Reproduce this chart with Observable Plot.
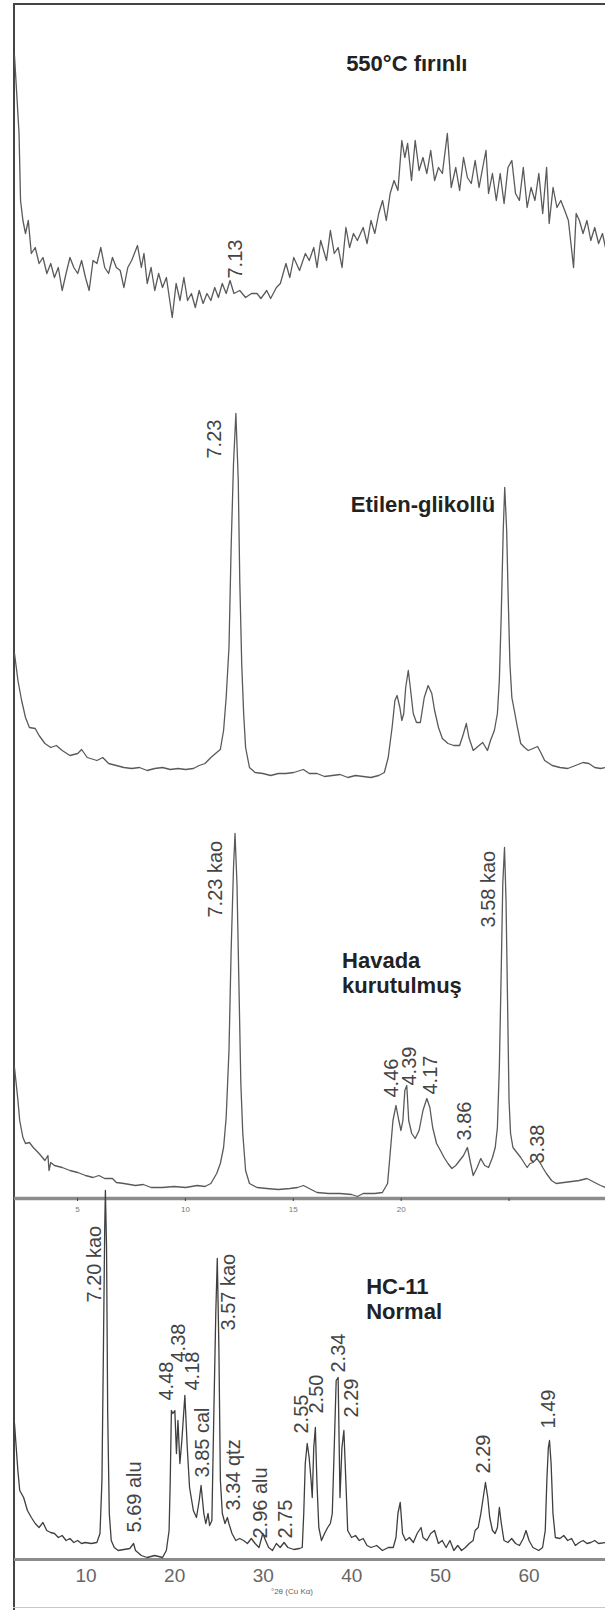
<!DOCTYPE html>
<html><head><meta charset="utf-8">
<script src="https://cdn.jsdelivr.net/npm/d3@7"></script>
<script src="https://cdn.jsdelivr.net/npm/@observablehq/plot@0.6"></script>
<style>
body{margin:0;background:#fff;}
#chart{position:relative;width:605px;height:1610px;overflow:hidden;font-family:"Liberation Sans",Arial,sans-serif;}
#chart svg{position:absolute;left:0;}
.fl{position:absolute;left:13px;top:3px;width:2px;height:1607px;background:#454545;}
.ft{position:absolute;left:13px;top:3px;width:592px;height:2px;background:#454545;}
.fb{position:absolute;left:13px;top:1607px;width:592px;height:1px;background:#c8c8c8;}
</style></head><body><div id="chart"><div class="fl"></div><div class="ft"></div><div class="fb"></div></div>
<script>
// ---- data: [°2θ, intensity] ----
const furnace550 = [[2.08,275],[2.29,197],[2.36,130],[2.47,110],[2.59,97],[2.72,110],[2.86,77],[3.04,83],[3.22,67],[3.40,73],[3.58,57],[3.76,67],[3.93,53],[4.11,63],[4.29,40],[4.47,57],[4.65,73],[4.83,63],[5.01,57],[5.19,70],[5.37,53],[5.54,40],[5.72,70],[5.90,67],[6.08,83],[6.26,63],[6.44,57],[6.62,73],[6.80,63],[6.98,60],[7.15,43],[7.33,63],[7.51,70],[7.78,85],[7.96,63],[8.08,77],[8.23,47],[8.41,63],[8.58,40],[8.76,57],[8.94,43],[9.12,53],[9.39,13],[9.57,47],[9.75,30],[9.93,53],[10.10,30],[10.28,37],[10.46,23],[10.64,40],[10.82,27],[11.00,37],[11.18,30],[11.36,43],[11.53,33],[11.71,47],[11.89,37],[12.07,50],[12.25,37],[12.52,40],[12.79,33],[13.06,37],[13.32,37],[13.50,32],[13.77,40],[13.95,32],[14.22,43],[14.40,47],[14.66,67],[14.84,53],[15.02,73],[15.29,60],[15.56,77],[15.74,70],[15.95,83],[16.10,63],[16.27,90],[16.54,70],[16.72,100],[16.90,77],[17.08,83],[17.26,63],[17.44,103],[17.61,83],[17.79,97],[17.97,90],[18.24,103],[18.42,87],[18.60,110],[18.78,97],[18.96,117],[19.14,130],[19.31,110],[19.49,137],[19.67,150],[19.85,140],[20.03,190],[20.17,173],[20.30,187],[20.48,150],[20.65,190],[20.83,160],[21.01,173],[21.19,157],[21.37,180],[21.55,150],[21.73,163],[21.91,157],[22.14,197],[22.32,143],[22.53,163],[22.71,140],[22.89,173],[23.07,153],[23.25,147],[23.43,170],[23.61,143],[23.78,163],[23.93,180],[24.05,137],[24.23,157],[24.41,130],[24.59,157],[24.77,127],[24.95,163],[25.13,170],[25.30,137],[25.48,130],[25.66,163],[25.84,123],[26.02,143],[26.20,130],[26.38,157],[26.56,117],[26.74,163],[26.86,107],[27.04,143],[27.22,123],[27.40,130],[27.58,120],[27.75,110],[27.99,63],[28.11,117],[28.26,110],[28.43,97],[28.61,110],[28.79,90],[28.97,103],[29.15,87],[29.33,97],[29.47,83]];

const glycol = [[2.08,127],[2.24,100],[2.41,80],[2.59,63],[2.77,53],[3.04,52],[3.22,45],[3.49,37],[3.76,33],[4.02,35],[4.29,30],[4.65,25],[5.01,27],[5.19,31],[5.45,23],[5.90,20],[6.17,23],[6.44,17],[6.80,15],[7.15,13],[7.51,12],[7.87,13],[8.23,10],[8.58,12],[8.94,13],[9.30,11],[9.66,12],[10.01,11],[10.37,12],[10.64,15],[10.91,17],[11.18,23],[11.45,28],[11.62,31],[11.77,50],[11.89,83],[12.02,133],[12.12,233],[12.23,317],[12.34,367],[12.45,300],[12.52,200],[12.61,117],[12.70,67],[12.79,33],[12.97,13],[13.23,8],[13.59,7],[13.95,5],[14.31,7],[14.66,7],[15.02,8],[15.47,11],[15.74,7],[16.10,7],[16.45,4],[16.81,5],[17.17,6],[17.53,3],[17.88,5],[18.24,4],[18.60,3],[18.96,5],[19.22,8],[19.40,23],[19.58,53],[19.71,80],[19.81,85],[19.94,73],[20.03,60],[20.12,67],[20.21,93],[20.33,110],[20.44,90],[20.56,67],[20.71,58],[20.89,58],[21.07,83],[21.25,95],[21.42,87],[21.55,70],[21.73,53],[21.91,42],[22.17,37],[22.44,35],[22.71,35],[22.89,47],[23.02,57],[23.14,43],[23.34,30],[23.61,35],[23.78,38],[24.00,30],[24.14,40],[24.32,50],[24.46,67],[24.55,100],[24.64,167],[24.73,250],[24.80,293],[24.89,250],[24.96,183],[25.04,117],[25.13,83],[25.27,67],[25.39,53],[25.54,37],[25.72,33],[25.89,30],[26.11,32],[26.32,34],[26.47,28],[26.65,20],[27.00,15],[27.36,13],[27.72,12],[28.08,15],[28.43,18],[28.70,17],[28.97,13],[29.24,12],[29.47,13]];

const airDried = [[2.08,131],[2.24,98],[2.32,78],[2.47,61],[2.59,55],[2.77,56],[2.95,51],[3.22,45],[3.49,38],[3.63,43],[3.68,28],[3.76,36],[3.93,33],[4.29,31],[4.65,28],[5.01,26],[5.37,23],[5.72,21],[5.99,23],[6.26,20],[6.62,20],[6.80,16],[7.15,15],[7.69,13],[8.05,14],[8.41,11],[8.94,11],[9.48,12],[10.01,11],[10.55,13],[10.91,12],[11.18,15],[11.45,25],[11.62,35],[11.77,51],[11.89,81],[12.02,148],[12.12,248],[12.23,331],[12.30,365],[12.39,315],[12.48,215],[12.57,115],[12.66,65],[12.79,28],[12.97,15],[13.32,11],[13.77,10],[14.31,9],[14.84,10],[15.20,11],[15.47,13],[15.74,10],[16.10,6],[16.63,5],[17.17,5],[17.70,4],[17.97,2],[18.24,5],[18.78,5],[19.13,6],[19.37,15],[19.49,45],[19.62,78],[19.76,93],[19.89,78],[19.99,68],[20.08,78],[20.17,108],[20.26,113],[20.35,78],[20.49,65],[20.65,60],[20.83,68],[21.01,88],[21.19,100],[21.33,91],[21.46,71],[21.64,55],[21.82,48],[21.99,41],[22.17,35],[22.35,30],[22.53,33],[22.71,38],[22.89,43],[23.07,51],[23.21,36],[23.34,23],[23.52,31],[23.69,40],[23.87,33],[24.05,31],[24.23,41],[24.36,51],[24.46,71],[24.55,131],[24.64,231],[24.71,315],[24.79,351],[24.86,298],[24.93,198],[25.00,98],[25.07,65],[25.18,51],[25.36,46],[25.54,41],[25.72,35],[25.84,31],[25.97,35],[26.11,36],[26.29,40],[26.43,36],[26.56,31],[26.73,25],[26.97,18],[27.18,15],[27.54,16],[27.90,17],[28.25,18],[28.61,20],[28.97,16],[29.24,13],[29.47,11]];

const normal = [[1.92,136],[2.30,89],[2.51,69],[2.95,62],[3.38,49],[3.82,42],[4.26,36],[4.69,32],[5.13,37],[5.56,29],[6.00,27],[6.43,26],[6.87,22],[7.30,24],[7.74,19],[8.18,21],[8.61,17],[9.05,19],[9.48,16],[9.92,17],[10.57,16],[11.22,17],[11.57,26],[11.79,79],[11.96,212],[12.10,329],[12.18,369],[12.31,312],[12.44,146],[12.62,46],[12.84,19],[13.18,12],[13.62,9],[14.27,10],[14.93,11],[15.36,16],[15.58,9],[16.23,4],[16.89,2],[17.76,4],[18.63,2],[19.06,9],[19.37,29],[19.50,79],[19.63,149],[19.80,146],[20.02,149],[20.20,106],[20.37,139],[20.59,96],[20.81,119],[21.15,164],[21.42,112],[21.68,72],[22.11,49],[22.46,42],[22.77,59],[22.98,74],[23.29,46],[23.51,36],[23.77,46],[23.94,34],[24.20,39],[24.42,146],[24.64,246],[24.81,301],[24.99,212],[25.16,79],[25.38,46],[25.68,36],[25.95,42],[26.12,36],[26.47,26],[26.90,19],[27.34,21],[27.78,19],[28.21,16],[28.65,21],[29.08,16],[29.52,12],[29.95,26],[30.26,19],[30.61,12],[31.04,9],[31.48,16],[31.91,12],[32.35,17],[32.78,12],[33.44,10],[34.09,11],[34.40,12],[34.57,46],[34.74,96],[34.96,116],[35.18,102],[35.40,79],[35.53,62],[35.70,112],[35.88,132],[36.05,79],[36.27,32],[36.57,19],[36.92,26],[37.27,32],[37.57,36],[37.79,46],[38.01,112],[38.23,179],[38.45,182],[38.66,62],[38.88,112],[39.10,129],[39.32,79],[39.53,29],[39.97,22],[40.41,24],[40.84,19],[41.28,21],[41.71,14],[42.15,12],[42.80,14],[43.45,9],[44.11,12],[44.67,12],[44.98,22],[45.20,46],[45.46,57],[45.72,26],[46.07,19],[46.50,22],[46.94,17],[47.37,26],[47.81,32],[48.03,22],[48.46,19],[48.90,26],[49.33,29],[49.77,16],[50.20,19],[50.64,12],[51.07,19],[51.51,9],[51.95,14],[52.38,9],[52.82,12],[53.25,16],[53.69,19],[53.91,29],[54.26,32],[54.56,46],[54.78,59],[55.08,77],[55.34,62],[55.56,42],[55.87,29],[56.17,26],[56.43,32],[56.65,52],[56.87,36],[57.17,19],[57.61,17],[58.04,21],[58.48,16],[58.92,14],[59.35,21],[59.66,29],[60.00,19],[60.44,12],[61.09,9],[61.53,12],[61.83,29],[62.01,79],[62.18,112],[62.31,119],[62.49,96],[62.70,46],[62.97,22],[63.49,21],[63.92,24],[64.36,19],[64.80,21],[65.23,14],[65.67,17],[66.10,19],[66.54,16],[66.97,17],[67.41,19],[67.84,16],[68.63,17]];

// ---- peak labels: [text, °2θ, intensity of label foot] ----
const labels550 = [["7.13",12.34,52]];
const labelsGlycol = [["7.23",11.36,322]];
const labelsAir = [["7.23 kao",11.39,281],["4.46",19.55,101],["4.39",20.39,113],["4.17",21.36,104],["3.86",22.94,58],["3.58 kao",24.05,271],["3.38",26.32,35]];
const labelsNormal = [["7.20 kao",10.92,257],["5.69 alu",15.45,27],["4.48",19.06,159],["4.38",20.46,197],["4.18",21.98,169],["3.85 cal",23.20,82],["3.57 kao",26.12,229],["3.34 qtz",26.69,49],["2.96 alu",29.73,21],["2.75",32.57,21],["2.55",34.31,126],["2.50",36.05,146],["2.34",38.45,187],["2.29",39.97,142],["2.29",54.87,86],["1.49",62.18,131]];

// ---- panel titles: [text, °2θ, intensity] ----
const title550 = [["550°C fırınlı",20.26,268]];
const titleGlycol = [["Etilen-glikollü",21.01,277]];
const titleAir = [["Havada\nkurutulmuş",17.26,226]];
const titleNormal = [["HC-11\nNormal",41.62,261]];

// ---- axes ----
const upperDomain = [2.08, 29.47];
const lowerDomain = [1.92, 68.63];
const upperTicks = [5,10,15,20,25];
const upperTickLabels = ["5","10","15","20",""];
const lowerTicks = [10,20,30,40,50,60];
const axisTitle = "°2θ (Cu Kα)";

const FONT = "'Liberation Sans', Arial, sans-serif";
const chart = document.getElementById("chart");

function peakText(labels) {
  return Plot.text(labels, {x: d => d[1], y: d => d[2], text: d => d[0], rotate: -90,
    textAnchor: "start", fontSize: 20, fill: "#444"});
}
function titleText(t, anchor) {
  return Plot.text(t, {x: d => d[1], y: d => d[2], text: d => d[0], textAnchor: anchor,
    fontSize: 22, fontWeight: "bold", fill: "#222", lineHeight: 1.14});
}
function panel(top, height, yMax, marginBottom, domain, marks) {
  const svg = Plot.plot({
    width: 605, height, marginLeft: 14, marginRight: 0, marginTop: 0, marginBottom,
    x: {domain, axis: null}, y: {domain: [0, yMax], axis: null},
    style: {background: "transparent", overflow: "visible", fontFamily: FONT},
    marks
  });
  svg.style.top = top + "px";
  chart.appendChild(svg);
}
const lineOpts = (c) => ({x: d => d[0], y: d => d[1], stroke: c, strokeWidth: 1.3});

panel(0, 340, 330, 10, upperDomain, [
  Plot.line(furnace550, lineOpts("#5a5a5a")),
  peakText(labels550),
  titleText(title550, "middle")
]);
panel(340, 450, 440, 10, upperDomain, [
  Plot.line(glycol, lineOpts("#5a5a5a")),
  peakText(labelsGlycol),
  titleText(titleGlycol, "middle")
]);
panel(790, 440, 408, 32, upperDomain, [
  Plot.ruleY([0], {stroke: "#8c8c8c", strokeWidth: 3.5}),
  Plot.axisX({ticks: upperTicks, tickFormat: d => upperTickLabels[upperTicks.indexOf(d)],
    tickSize: 3, tickPadding: 5, fontSize: 8, stroke: "#444", fill: "#777", label: null}),
  Plot.line(airDried, lineOpts("#5a5a5a")),
  peakText(labelsAir),
  titleText(titleAir, "start")
]);
panel(1180, 430, 379, 51, lowerDomain, [
  Plot.ruleY([0], {stroke: "#8c8c8c", strokeWidth: 3}),
  Plot.axisX({ticks: lowerTicks, tickSize: 0, tickPadding: 9, fontSize: 19, fill: "#666", label: null}),
  Plot.text([axisTitle], {frameAnchor: "bottom", text: d => d, dx: -18, dy: 34, fontSize: 8, fill: "#666"}),
  Plot.line(normal, lineOpts("#3f3f3f")),
  peakText(labelsNormal),
  titleText(titleNormal, "start")
]);
</script></body></html>
